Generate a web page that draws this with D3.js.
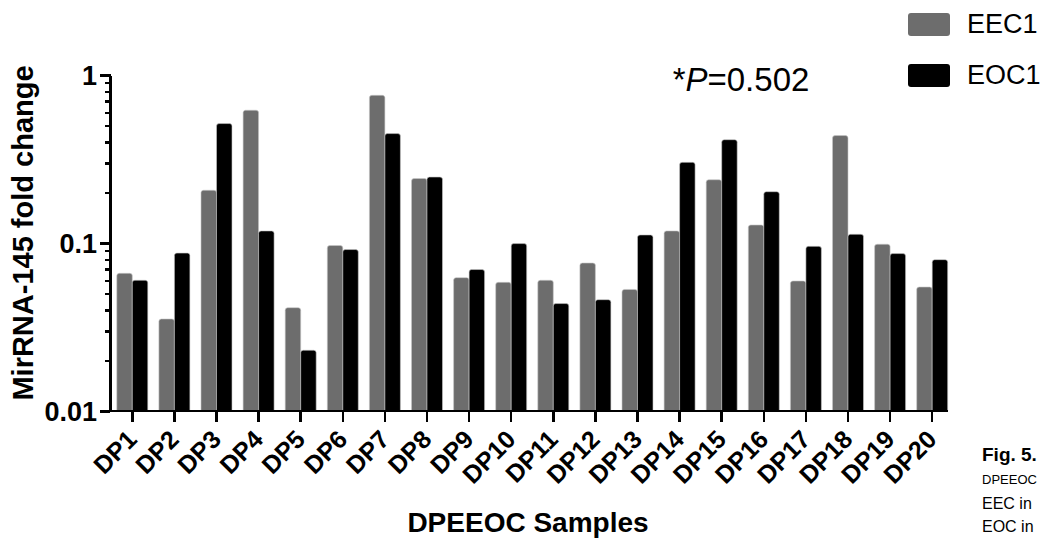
<!DOCTYPE html>
<html>
<head>
<meta charset="utf-8">
<style type="text/css">
  body { margin: 0; background: #fff; }
  svg { display: block; font-family: "Liberation Sans", Arial, sans-serif; }
  .axis path, .axis line { fill: none; stroke: #000; stroke-width: 2.5; shape-rendering: crispEdges; }
  .axis text { font-weight: bold; fill: #000; }
</style>
</head>
<body>
<div class="svg_container"></div>
<script src="https://cdnjs.cloudflare.com/ajax/libs/d3/7.8.5/d3.min.js"></script>
<script type="text/javascript">
// data
var samples = ["DP1","DP2","DP3","DP4","DP5","DP6","DP7","DP8","DP9","DP10",
               "DP11","DP12","DP13","DP14","DP15","DP16","DP17","DP18","DP19","DP20"];
var seriesNames = ["EEC1", "EOC1"];
var eec1 = [0.066, 0.0353, 0.206, 0.617, 0.0412, 0.0966, 0.757, 0.242, 0.0622, 0.0583,
            0.060, 0.076, 0.0529, 0.118, 0.238, 0.128, 0.0594, 0.436, 0.0983, 0.0547];
var eoc1 = [0.060, 0.0871, 0.514, 0.118, 0.023, 0.0914, 0.448, 0.247, 0.0695, 0.0992,
            0.0436, 0.046, 0.1117, 0.302, 0.412, 0.202, 0.0955, 0.1127, 0.0865, 0.0796];
var yMajorTicks = [0.01, 0.1, 1];
var yTickLabels = ["0.01", "0.1", "1"];
var colors = ["#6d6d6d", "#000000"];

var W = 1042, H = 538;
var svg = d3.select(".svg_container").append("svg")
  .attr("width", W).attr("height", H)
  .style("overflow", "hidden");

var axisX = 110, baseY = 411, topY = 75;

var x = d3.scaleBand().domain(samples).range([111.25, 953.25]).padding(0);
var groupW = 31;
var xSub = d3.scaleBand().domain(seriesNames).range([0, groupW]).padding(0);
var y = d3.scaleLog().domain([0.01, 1]).range([baseY, topY]);

var rows = samples.map(function(s, i) {
  return { sample: s, values: [eec1[i], eoc1[i]] };
});

// bar with rounded top corners
function barPath(x0, w, yTop, yBot) {
  var r = 2.5;
  return "M" + x0 + "," + yBot +
    "V" + (yTop + r) +
    "Q" + x0 + "," + yTop + " " + (x0 + r) + "," + yTop +
    "H" + (x0 + w - r) +
    "Q" + (x0 + w) + "," + yTop + " " + (x0 + w) + "," + (yTop + r) +
    "V" + yBot + "Z";
}

var groups = svg.selectAll(".grp")
  .data(rows)
  .enter().append("g")
  .attr("class", "grp")
  .attr("transform", function(d) {
    return "translate(" + (x(d.sample) + (x.bandwidth() - groupW) / 2) + ",0)";
  });

groups.selectAll("path")
  .data(function(d) {
    return d.values.map(function(v, j) { return { key: seriesNames[j], v: v, j: j }; });
  })
  .enter().append("path")
  .attr("d", function(d) { return barPath(xSub(d.key), xSub.bandwidth(), y(d.v), baseY); })
  .attr("fill", function(d) { return colors[d.j]; })
  .attr("stroke", "#c8c8c8")
  .attr("stroke-width", 0.6);

// y axis: minor ticks then major ticks
var minorTicks = [];
[0.01, 0.1].forEach(function(dec) {
  for (var k = 2; k <= 9; k++) minorTicks.push(dec * k);
});
svg.append("g")
  .attr("class", "axis")
  .attr("transform", "translate(" + axisX + ",0)")
  .call(d3.axisLeft(y).tickValues(minorTicks).tickSize(5).tickFormat("").tickSizeOuter(0));

var yAxis = svg.append("g")
  .attr("class", "axis")
  .attr("transform", "translate(" + axisX + ",0)")
  .call(d3.axisLeft(y).tickValues(yMajorTicks).tickSize(10).tickSizeOuter(0)
    .tickFormat(function(d, i) { return yTickLabels[i]; }));
yAxis.selectAll("text").style("font-size", "27px").attr("x", -13).attr("dy", "0.36em");
yAxis.select(".domain").attr("d", "M0," + (baseY + 1) + "V" + (topY - 1));

// x axis
var xAxis = svg.append("g")
  .attr("class", "axis")
  .attr("transform", "translate(0," + baseY + ")")
  .call(d3.axisBottom(x).tickSize(11).tickSizeOuter(0));
var lastBarEnd = x(samples[samples.length - 1]) + (x.bandwidth() + groupW) / 2;
xAxis.select(".domain").attr("d", "M" + (axisX - 1) + ",0H" + lastBarEnd);
xAxis.selectAll("text")
  .style("font-size", "25px")
  .attr("text-anchor", "end")
  .attr("y", 0).attr("dy", 0)
  .attr("transform", "translate(6,30) rotate(-45)");

// axis titles
svg.append("text")
  .attr("transform", "translate(33,233) rotate(-90)")
  .attr("text-anchor", "middle")
  .style("font-size", "29px").style("font-weight", "bold")
  .text("MirRNA-145 fold change");

svg.append("text")
  .attr("x", 528).attr("y", 532)
  .attr("text-anchor", "middle")
  .style("font-size", "28px").style("font-weight", "bold")
  .text("DPEEOC Samples");

// p value
var pText = svg.append("text")
  .attr("x", 741).attr("y", 91)
  .attr("text-anchor", "middle")
  .style("font-size", "33px");
pText.append("tspan").text("*");
pText.append("tspan").style("font-style", "italic").text("P");
pText.append("tspan").text("=0.502");

// legend
var legend = svg.selectAll(".leg")
  .data(seriesNames)
  .enter().append("g")
  .attr("class", "leg")
  .attr("transform", function(d, i) { return "translate(908," + (13 + i * 51) + ")"; });
legend.append("rect")
  .attr("width", 42).attr("height", 23).attr("rx", 3)
  .attr("fill", function(d, i) { return colors[i]; });
legend.append("text")
  .attr("x", 59).attr("y", 20)
  .style("font-size", "27px")
  .text(function(d) { return d; });

// caption fragment at right edge
var cap = svg.append("g").attr("transform", "translate(982,0)");
cap.append("text").attr("y", 461).style("font-size", "19px").style("font-weight", "bold").text("Fig. 5.");
cap.append("text").attr("y", 484).style("font-size", "13px").text("DPEEOC");
cap.append("text").attr("y", 509).style("font-size", "16px").text("EEC  in");
cap.append("text").attr("y", 532).style("font-size", "16px").text("EOC in");
</script>
</body>
</html>
